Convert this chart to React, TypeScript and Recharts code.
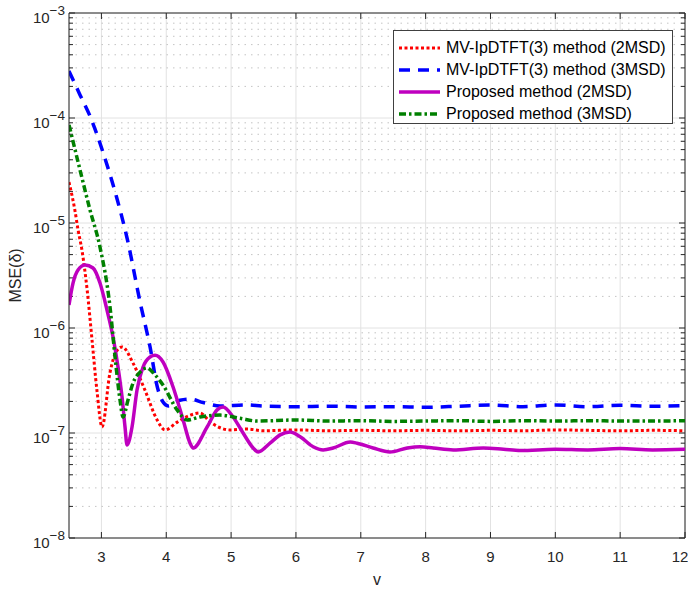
import React from 'react';
import { LineChart, Line, XAxis, YAxis, CartesianGrid, ReferenceLine, Legend } from 'recharts';

// values (v, MSE)
const redV = [2.5, 2.59, 2.64, 2.7, 2.78, 2.855, 2.93, 3.01, 3.13, 3.24, 3.32, 3.49, 3.67, 3.86, 3.98, 4.17, 4.37, 4.52, 4.68, 4.98, 5.25, 5.5, 6, 6.5, 7, 7.5, 8, 8.5, 9, 9.5, 10, 10.5, 11, 11.5, 12];
const redMse = [2.45e-5, 1.33e-5, 8.6e-6, 5.5e-6, 2.3e-6, 7.7e-7, 2.57e-7, 1.14e-7, 3.7e-7, 6.1e-7, 6.6e-7, 4.6e-7, 2.57e-7, 1.33e-7, 1.07e-7, 1.27e-7, 1.48e-7, 1.55e-7, 1.27e-7, 1.07e-7, 1.09e-7, 1.05e-7, 1.07e-7, 1.05e-7, 1.06e-7, 1.05e-7, 1.06e-7, 1.05e-7, 1.06e-7, 1.05e-7, 1.07e-7, 1.06e-7, 1.05e-7, 1.06e-7, 1.05e-7];

const blueV = [2.5, 2.67, 2.816, 3.048, 3.233, 3.395, 3.596, 3.75, 3.866, 3.95, 4.03, 4.21, 4.37, 4.57, 4.83, 5.25, 5.5, 6, 6.5, 7, 7.5, 8, 8.5, 9, 9.5, 10, 10.5, 11, 11.5, 12];
const blueMse = [2.8e-4, 1.66e-4, 1.07e-4, 4.25e-5, 1.77e-5, 7.2e-6, 1.77e-6, 6.6e-7, 2.68e-7, 1.97e-7, 1.81e-7, 2.05e-7, 2.1e-7, 1.95e-7, 1.81e-7, 1.85e-7, 1.8e-7, 1.78e-7, 1.8e-7, 1.77e-7, 1.78e-7, 1.76e-7, 1.8e-7, 1.85e-7, 1.78e-7, 1.85e-7, 1.78e-7, 1.84e-7, 1.8e-7, 1.82e-7];

const magV = [2.5, 2.562, 2.639, 2.747, 2.87, 2.978, 3.086, 3.179, 3.256, 3.318, 3.364, 3.395, 3.472, 3.549, 3.642, 3.75, 3.827, 3.95, 4.105, 4.26, 4.367, 4.414, 4.63, 4.784, 4.877, 5.03, 5.185, 5.34, 5.417, 5.6, 5.756, 5.91, 6.065, 6.265, 6.42, 6.574, 6.836, 6.944, 7.19, 7.45, 7.716, 7.917, 8.117, 8.426, 8.89, 9.2, 9.46, 10, 10.5, 11, 11.5, 12];
const magMse = [1.66e-6, 2.68e-6, 3.57e-6, 3.98e-6, 3.73e-6, 2.68e-6, 1.48e-6, 8.2e-7, 4.25e-7, 2.2e-7, 1.14e-7, 7.7e-8, 1.14e-7, 2.57e-7, 4.25e-7, 5.3e-7, 5.5e-7, 4.75e-7, 2.74e-7, 1.33e-7, 8.0e-8, 7.2e-8, 1.14e-7, 1.66e-7, 1.77e-7, 1.42e-7, 1.0e-7, 7.2e-8, 6.6e-8, 8.0e-8, 9.6e-8, 1.02e-7, 9.2e-8, 7.4e-8, 6.9e-8, 7.2e-8, 8.2e-8, 8.0e-8, 7.2e-8, 6.6e-8, 7.2e-8, 7.4e-8, 7.2e-8, 6.9e-8, 7.2e-8, 7.0e-8, 6.8e-8, 7.0e-8, 6.9e-8, 7.1e-8, 6.9e-8, 7.0e-8];

const greenV = [2.5, 2.67, 2.824, 2.978, 3.133, 3.21, 3.287, 3.333, 3.41, 3.488, 3.596, 3.7, 3.83, 3.95, 4.167, 4.32, 4.52, 4.83, 5.14, 5.4, 6, 6.5, 7, 7.5, 8, 8.5, 9, 9.5, 10, 10.5, 11, 11.5, 12];
const greenMse = [8.6e-5, 3.2e-5, 1.33e-5, 5.9e-6, 1.58e-6, 5.3e-7, 2.06e-7, 1.42e-7, 2.06e-7, 3.0e-7, 3.8e-7, 4.16e-7, 3.56e-7, 2.86e-7, 1.66e-7, 1.33e-7, 1.42e-7, 1.48e-7, 1.38e-7, 1.3e-7, 1.33e-7, 1.3e-7, 1.31e-7, 1.29e-7, 1.3e-7, 1.31e-7, 1.29e-7, 1.31e-7, 1.3e-7, 1.31e-7, 1.3e-7, 1.3e-7, 1.31e-7];

const xTicks = [3, 4, 5, 6, 7, 8, 9, 10, 11, 12];
const yTicks = [1e-8, 1e-7, 1e-6, 1e-5, 1e-4, 1e-3];

const toRows = (xs: number[], ys: number[]) => xs.map((v, i) => ({ v, mse: ys[i] }));

const series = [
  { name: 'MV-IpDTFT(3) method (2MSD)', data: toRows(redV, redMse), color: '#ff0000', width: 3, dash: '3 2.5' },
  { name: 'MV-IpDTFT(3) method (3MSD)', data: toRows(blueV, blueMse), color: '#0000ff', width: 3.5, dash: '11 8' },
  { name: 'Proposed method (2MSD)', data: toRows(magV, magMse), color: '#bf00bf', width: 3.5, dash: undefined },
  { name: 'Proposed method (3MSD)', data: toRows(greenV, greenMse), color: '#008000', width: 3.5, dash: '7 3 2.5 3' },
];

// minor log ticks 2..9 inside every decade
const yMinor: number[] = [];
for (let e = -8; e < -3; e++) {
  for (let m = 2; m <= 9; m++) yMinor.push(m * Math.pow(10, e));
}

const FONT = '"Liberation Sans", Arial, Helvetica, sans-serif';
const AXIS = '#262626';

const YTick = ({ x, y, payload }: any) => {
  const e = Math.round(Math.log10(payload.value));
  return (
    <text x={x} y={y + 10} textAnchor="end" fontSize={15} fill={AXIS} fontFamily={FONT}>
      10<tspan dy={-8} fontSize={13.5}>{'\u2212' + Math.abs(e)}</tspan>
    </text>
  );
};

const XTick = ({ x, y, payload }: any) => (
  <text x={x} y={y + 24} textAnchor="middle" fontSize={15} fill={AXIS} fontFamily={FONT}>
    {payload.value}
  </text>
);

// short inward tick marks on both sides + dotted minor grid
const hTicks = (len: number, grid: boolean) => (p: any) => {
  const xa = Math.min(p.x1, p.x2);
  const xb = Math.max(p.x1, p.x2);
  return (
    <g>
      {grid && <line x1={xa} x2={xb} y1={p.y1} y2={p.y1} stroke="#c4c4c4" strokeDasharray="1.5 5" />}
      <line x1={xa} x2={xa + len} y1={p.y1} y2={p.y1} stroke={AXIS} />
      <line x1={xb - len} x2={xb} y1={p.y1} y2={p.y1} stroke={AXIS} />
    </g>
  );
};

const vTicks = (p: any) => {
  const ya = Math.min(p.y1, p.y2);
  const yb = Math.max(p.y1, p.y2);
  return (
    <g>
      <line x1={p.x1} x2={p.x1} y1={ya} y2={ya + 6} stroke={AXIS} />
      <line x1={p.x1} x2={p.x1} y1={yb - 6} y2={yb} stroke={AXIS} />
    </g>
  );
};

const LegendBox = () => (
  <div style={{ width: 280, height: 94, border: '1px solid #404040', background: '#fff', fontFamily: FONT, fontSize: 16, color: '#000', paddingTop: 6, boxSizing: 'border-box' }}>
    {series.map((s) => (
      <div key={s.name} style={{ display: 'flex', alignItems: 'center', height: 22 }}>
        <svg width={46} height={10} style={{ flexShrink: 0 }}>
          <line x1={5} x2={46} y1={5} y2={5} stroke={s.color} strokeWidth={s.width} strokeDasharray={s.dash} />
        </svg>
        <span style={{ marginLeft: 6, whiteSpace: 'nowrap' }}>{s.name}</span>
      </div>
    ))}
  </div>
);

export default function App() {
  return (
    <div style={{ position: 'absolute', left: 0, top: 0, background: '#fff' }}>
      <LineChart width={688} height={592} margin={{ top: 13, right: 3, bottom: 0, left: 0 }}>
        <CartesianGrid stroke="#e2e2e2" />
        <XAxis
          dataKey="v"
          type="number"
          domain={[2.5, 12]}
          ticks={xTicks}
          allowDataOverflow
          height={54}
          tickLine={false}
          tickSize={0}
          tickMargin={0}
          tick={<XTick />}
          stroke={AXIS}
          label={{ value: 'v', position: 'insideBottom', offset: 7, fontSize: 16, fill: AXIS, fontFamily: FONT }}
        />
        <YAxis
          dataKey="mse"
          type="number"
          scale="log"
          domain={[1e-8, 1e-3]}
          ticks={yTicks}
          allowDataOverflow
          width={69}
          tickLine={false}
          tickSize={4}
          tickMargin={0}
          tick={<YTick />}
          stroke={AXIS}
          label={{ value: 'MSE(δ)', angle: -90, position: 'insideLeft', offset: 15, fontSize: 16, fill: AXIS, fontFamily: FONT, style: { textAnchor: 'middle' } }}
        />
        {yMinor.map((v) => (
          <ReferenceLine key={'m' + v} y={v} shape={hTicks(4, true)} />
        ))}
        {yTicks.map((v) => (
          <ReferenceLine key={'M' + v} y={v} shape={hTicks(6, false)} />
        ))}
        {xTicks.map((v) => (
          <ReferenceLine key={'x' + v} x={v} shape={vTicks} />
        ))}
        <ReferenceLine y={1e-3} stroke={AXIS} />
        <ReferenceLine x={12} stroke={AXIS} />
        {series.map((s) => (
          <Line
            key={s.name}
            data={s.data}
            dataKey="mse"
            name={s.name}
            type="monotone"
            stroke={s.color}
            strokeWidth={s.width}
            strokeDasharray={s.dash}
            dot={false}
            isAnimationActive={false}
          />
        ))}
        <Legend
          layout="vertical"
          align="center"
          verticalAlign="middle"
          wrapperStyle={{ left: 393, top: 30, width: 282 }}
          content={() => <LegendBox />}
        />
      </LineChart>
    </div>
  );
}
